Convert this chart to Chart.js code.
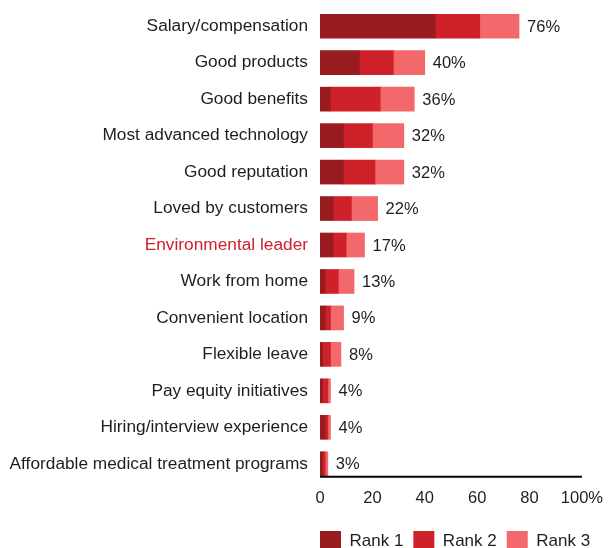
<!DOCTYPE html>
<html>
<head>
<meta charset="utf-8">
<script src="https://cdn.jsdelivr.net/npm/chart.js@4.4.1/dist/chart.umd.min.js"></script>
<style>
  html, body { margin: 0; padding: 0; background: #fff; overflow: hidden; }
  #wrap { width: 610px; height: 561px; }
</style>
</head>
<body>
<div id="wrap"><canvas id="rankChart" width="610" height="561"></canvas></div>
<script>
// Reasons people pick an employer, stacked by rank
const categories = [
    'Salary/compensation', 'Good products', 'Good benefits', 'Most advanced technology',
    'Good reputation', 'Loved by customers', 'Environmental leader', 'Work from home',
    'Convenient location', 'Flexible leave', 'Pay equity initiatives',
    'Hiring/interview experience', 'Affordable medical treatment programs'
];
const rank1 = [44, 15, 4, 9, 9, 5, 5, 2, 2, 1, 1, 2, 1];
const rank2 = [17, 13, 19, 11, 12, 7, 5, 5, 2, 3, 2, 1, 1];
const rank3 = [15, 12, 13, 12, 11, 10, 7, 6, 5, 4, 1, 1, 1];
const totals = [76, 40, 36, 32, 32, 22, 17, 13, 9, 8, 4, 4, 3];
const xTicks = [0, 20, 40, 60, 80, 100];

const highlight = 'Environmental leader';
const textColor = '#1e1e1e';
const redText = '#d0202a';
const FONT = "'Liberation Sans', Arial, sans-serif";

// total labels at the end of each stacked bar
const totalLabels = {
    id: 'totalLabels',
    afterDatasetsDraw(chart) {
        const ctx = chart.ctx;
        const meta = chart.getDatasetMeta(chart.data.datasets.length - 1);
        ctx.save();
        ctx.font = '16.5px ' + FONT;
        ctx.fillStyle = textColor;
        ctx.textAlign = 'left';
        ctx.textBaseline = 'middle';
        meta.data.forEach((bar, i) => {
            ctx.fillText(totals[i] + '%', bar.x + 8, bar.y + 1);
        });
        ctx.restore();
    }
};

// x axis line sits on the bottom edge of the last bar
const axisLine = {
    id: 'axisLine',
    afterDatasetsDraw(chart) {
        const ctx = chart.ctx;
        const meta = chart.getDatasetMeta(0);
        const last = meta.data[meta.data.length - 1];
        const y = last.y + last.height / 2 + 1;
        const area = chart.chartArea;
        ctx.save();
        ctx.strokeStyle = '#000';
        ctx.lineWidth = 2;
        ctx.beginPath();
        ctx.moveTo(area.left, y);
        ctx.lineTo(area.right, y);
        ctx.stroke();
        ctx.restore();
    }
};

// legend starts flush with the plot's left edge, one row
const legendShift = {
    id: 'legendShift',
    afterLayout(chart) {
        const lg = chart.legend;
        if (!lg) return;
        lg.left = chart.chartArea.left - lg.options.labels.padding;
        lg.right = chart.width + 60;
    }
};

new Chart(document.getElementById('rankChart'), {
    type: 'bar',
    data: {
        labels: categories,
        datasets: [
            { label: 'Rank 1', data: rank1, backgroundColor: '#981b20' },
            { label: 'Rank 2', data: rank2, backgroundColor: '#cf2129' },
            { label: 'Rank 3', data: rank3, backgroundColor: '#f2686b' }
        ]
    },
    options: {
        indexAxis: 'y',
        responsive: false,
        animation: false,
        devicePixelRatio: 1,
        layout: { padding: { top: 8, right: 27, left: 0, bottom: 0 } },
        datasets: {
            bar: { barThickness: 24, borderWidth: 0 }
        },
        plugins: {
            legend: {
                position: 'bottom',
                align: 'start',
                labels: {
                    boxWidth: 21,
                    boxHeight: 20,
                    padding: 10,
                    color: textColor,
                    font: { family: FONT, size: 17 }
                }
            },
            tooltip: { enabled: false }
        },
        scales: {
            x: {
                stacked: true,
                min: 0,
                max: 100,
                afterBuildTicks(scale) {
                    scale.ticks = xTicks.map(v => ({ value: v }));
                },
                afterFit(scale) { scale.height = 39; },
                grid: { display: false, drawTicks: false },
                border: { display: false },
                ticks: {
                    padding: 7,
                    color: textColor,
                    font: { family: FONT, size: 16.5 },
                    callback: v => v === 100 ? '100%' : v
                }
            },
            y: {
                stacked: true,
                afterFit(scale) {
                    scale.width = 320;
                    scale.paddingTop = 0;
                    scale.paddingBottom = 0;
                },
                grid: { display: false, drawTicks: false },
                border: { display: false },
                ticks: {
                    padding: 12,
                    autoSkip: false,
                    color: c => categories[c.index] === highlight ? redText : textColor,
                    font: { family: FONT, size: 17.3 }
                }
            }
        }
    },
    plugins: [totalLabels, axisLine, legendShift]
});
</script>
</body>
</html>
